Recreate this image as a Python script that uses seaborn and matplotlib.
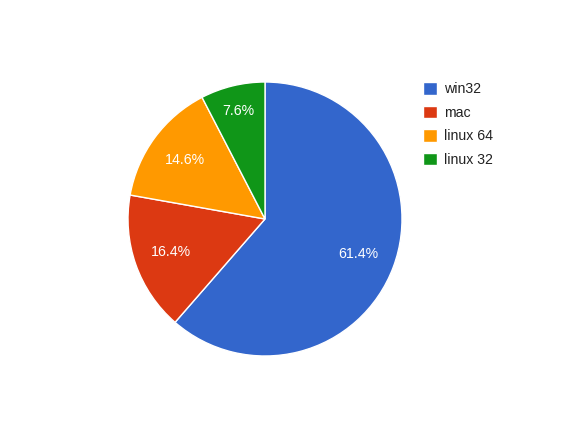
import matplotlib
matplotlib.use("Agg")
import numpy as np
import matplotlib.pyplot as plt
import seaborn as sns

# datos
labels = ["win32", "mac", "linux 64", "linux 32"]
values = [61.4, 16.4, 14.6, 7.6]
colors = ["#3366cc", "#dc3912", "#ff9900", "#109618"]

sns.set_style("white")
plt.rcParams["font.family"] = ["Liberation Sans", "DejaVu Sans"]

fig = plt.figure(figsize=(5.68, 4.33), dpi=100)
ax = fig.add_axes([128 / 568, 77 / 433, 274 / 568, 274 / 433])

wedges, texts, autotexts = ax.pie(
    values,
    colors=colors,
    startangle=90,
    counterclock=False,
    autopct="%.1f%%",
    pctdistance=0.73,
    wedgeprops=dict(edgecolor="white", linewidth=1),
    textprops=dict(color="white", fontsize=10.2),
)

# la etiqueta del trozo pequeño va algo más afuera
w = wedges[3]
ang = np.deg2rad((w.theta1 + w.theta2) / 2)
autotexts[3].set_position((0.81 * np.cos(ang), 0.81 * np.sin(ang)))

ax.set_xlim(-1, 1)
ax.set_ylim(-1, 1)
ax.set_aspect("equal")
ax.axis("off")

fig.legend(
    wedges, labels,
    loc="upper left",
    bbox_to_anchor=(423 / 568, 1 - 82 / 433),
    frameon=False,
    borderpad=0,
    borderaxespad=0,
    fontsize=10.2,
    handlelength=1.0,
    handleheight=1.0,
    handletextpad=0.5,
    labelspacing=0.66,
    labelcolor="#222222",
)

fig.savefig("out.png", dpi=100, facecolor="white")
